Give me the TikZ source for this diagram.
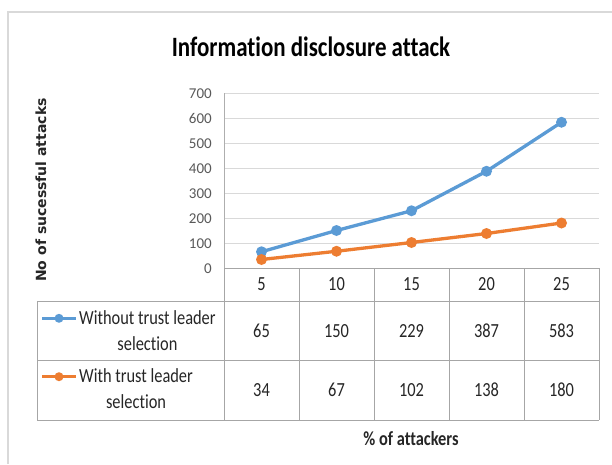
\documentclass[tikz,border=0pt]{standalone}
\usepackage{fontspec}
\usepackage{graphicx}
\setmainfont{Carlito}[RawFeature={-liga}]
\newfontfamily\dejavu{DejaVu Sans}
\definecolor{serblue}{HTML}{5B9BD5}
\definecolor{serorange}{HTML}{ED7D31}
\definecolor{gridc}{HTML}{D9D9D9}
\definecolor{tablec}{HTML}{A6A6A6}
\definecolor{axistxt}{HTML}{595959}
\definecolor{bodytxt}{HTML}{262626}
\newcommand{\nar}[1]{\scalebox{0.82}[1]{#1}}
\tikzset{
  gridline/.style={draw=gridc, line width=1pt},
  tabline/.style={draw=tablec, line width=1pt},
  axlabel/.style={anchor=east, inner sep=0pt, text=axistxt, font=\fontsize{15}{17}\selectfont},
  celltxt/.style={anchor=base, inner sep=0pt, text=bodytxt, font=\fontsize{20}{24}\selectfont},
  bluel/.style={draw=serblue, line width=3.3pt, line join=round},
  orangel/.style={draw=serorange, line width=3.3pt, line join=round},
  bluem/.style={circle, fill=serblue, inner sep=0pt, minimum size=11pt},
  orangem/.style={circle, fill=serorange, inner sep=0pt, minimum size=11pt},
}
\begin{document}
\begin{tikzpicture}[x=1pt,y=-1pt]
\useasboundingbox (0,0) rectangle (612,464);
\fill[white] (0,0) rectangle (612,464);
% outer frame
\draw[draw=gridc, line width=1.5pt] (8,464) -- (8,12) -- (612,12);
% title
\node[anchor=base, inner sep=0pt, font=\bfseries\fontsize{28}{30}\selectfont] (title) at (311,56) {\nar{Information disclosure attack}};
% gridlines and y labels
\foreach \v in {100,200,...,700}{
  \draw[gridline] (224,268-\v*0.25) -- (599,268-\v*0.25);
}
\foreach \v in {0,100,...,700}{
  \node[axlabel] (yl\v) at (212,268.5-\v*0.25) {\v};
}
% y axis line
\draw[draw=gridc!80!black, line width=1pt] (224,93) -- (224,268);
% y axis title
\node[rotate=90, inner sep=0pt, text=bodytxt, font=\dejavu\bfseries\fontsize{14}{16}\selectfont] (ytitle) at (41,190) {No of sucessful attacks};
% table lines
\draw[tabline] (224,268) -- (599,268);
\draw[tabline] (37,301) -- (599,301);
\draw[tabline] (37,360) -- (599,360);
\draw[tabline] (37,420) -- (599,420);
\draw[tabline] (37,301) -- (37,420);
\foreach \x in {224,299,374,449,524,599}{
  \draw[tabline] (\x,268) -- (\x,420);
}
% header labels and values
\foreach \c/\lab/\a/\b [count=\i] in {261.5/5/65/34, 336.5/10/150/67, 411.5/15/229/102, 486.5/20/387/138, 561.5/25/583/180}{
  \node[celltxt] (h\i) at (\c,290) {\nar{\lab}};
  \node[celltxt] (va\i) at (\c,337) {\nar{\a}};
  \node[celltxt] (vb\i) at (\c,396) {\nar{\b}};
  \coordinate (pa\i) at (\c,268-\a*0.25);
  \coordinate (pb\i) at (\c,268-\b*0.25);
}
% series
\draw[bluel] (pa1) -- (pa2) -- (pa3) -- (pa4) -- (pa5);
\draw[orangel] (pb1) -- (pb2) -- (pb3) -- (pb4) -- (pb5);
\foreach \i in {1,...,5}{
  \node[bluem] (ma\i) at (pa\i) {};
  \node[orangem] (mb\i) at (pb\i) {};
}
% legend keys
\coordinate (ka1) at (42,318.3);
\coordinate (ka2) at (76,318.3);
\coordinate (kb1) at (42,376.7);
\coordinate (kb2) at (76,376.7);
\draw[bluel] (ka1) -- (ka2);
\node[bluem, minimum size=9pt] (kma) at (59,318.3) {};
\draw[orangel] (kb1) -- (kb2);
\node[orangem, minimum size=9pt] (kmb) at (59,376.7) {};
% legend texts
\node[celltxt, anchor=base west] (la) at (79,324.3) {\nar{Without trust leader}};
\node[celltxt] (la2) at ([yshift=-26pt]la.base) {\nar{selection}};
\node[celltxt, anchor=base west] (lb) at (79,382.3) {\nar{With trust leader}};
\node[celltxt] (lb2) at ([yshift=-26pt]lb.base) {\nar{selection}};
% x axis title
\node[anchor=base, inner sep=0pt, text=bodytxt, font=\bfseries\fontsize{20}{24}\selectfont] (xtitle) at (411,445) {\nar{\% of attackers}};
\end{tikzpicture}
\end{document}
